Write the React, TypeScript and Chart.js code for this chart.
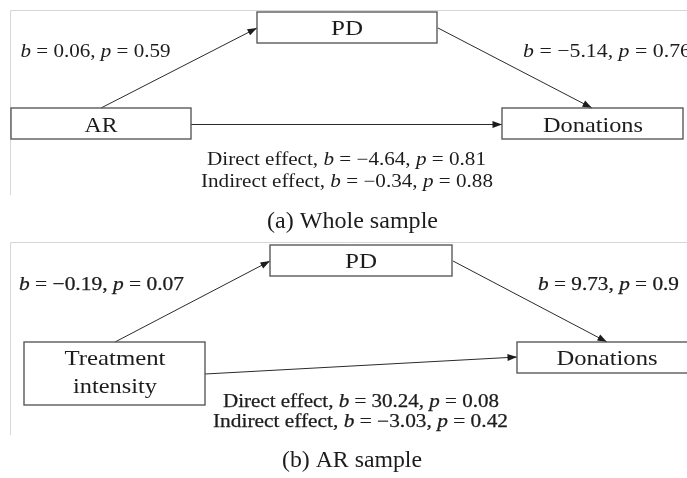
import React, { useEffect, useRef } from "react";
import { Chart, registerables } from "chart.js";

Chart.register(...registerables);

// ---------- data ----------
const panelCaptions = ["(a) Whole sample", "(b) AR sample"];
const nodeNamesA = [["AR"], ["PD"], ["Donations"]];
const nodeNamesB = [["Treatment", "intensity"], ["PD"], ["Donations"]];
const effectNames = ["Direct effect", "Indirect effect"];

// path coefficients: [X -> PD, PD -> Donations]
const aPathB = [0.06, -5.14];
const aPathP = [0.59, 0.76];
const bPathB = [-0.19, 9.73];
const bPathP = [0.07, 0.9];

// effects: [direct, indirect]
const aEffectB = [-4.64, -0.34];
const aEffectP = [0.81, 0.88];
const bEffectB = [30.24, -3.03];
const bEffectP = [0.08, 0.42];

// ---------- layout (pixel space of the 687x478 scale domain) ----------
type Box = { x0: number; x1: number; y0: number; y1: number; cx: number; base: number[]; w: number[] };
const layoutA = {
  frame: { x: 10.5, top: 10.5, bottom: 195 },
  boxes: [
    { x0: 11, x1: 191, y0: 108, y1: 139, cx: 101, base: [132], w: [33] },
    { x0: 257, x1: 437, y0: 12, y1: 43, cx: 347, base: [35], w: [32] },
    { x0: 502, x1: 683, y0: 108, y1: 139, cx: 593, base: [132], w: [100] },
  ] as Box[],
  arrows: [
    [[101, 108], [257, 28]],
    [[438, 28], [592, 108]],
    [[191, 124.5], [502, 124.5]],
  ],
  pathLabels: [
    { x: 20.5, base: 57, w: 150 },
    { x: 523, base: 57, w: 168 },
  ],
  effectLabels: [
    { cx: 346.5, base: 165, w: 279 },
    { cx: 347, base: 187, w: 292 },
  ],
  caption: { cx: 352.5, base: 228, w: 171 },
  bold: 0,
};
const layoutB = {
  frame: { x: 10.5, top: 242.5, bottom: 435 },
  boxes: [
    { x0: 24, x1: 205, y0: 342, y1: 405, cx: 115, base: [365, 392.5], w: [101, 84] },
    { x0: 270, x1: 452, y0: 245, y1: 276, cx: 361, base: [268], w: [32] },
    { x0: 517, x1: 700, y0: 342, y1: 373, cx: 607, base: [365], w: [101] },
  ] as Box[],
  arrows: [
    [[115, 342], [270, 261]],
    [[453, 261], [607, 342]],
    [[205, 374], [517, 357]],
  ],
  pathLabels: [
    { x: 19, base: 290, w: 165 },
    { x: 538, base: 290, w: 141 },
  ],
  effectLabels: [
    { cx: 361, base: 407, w: 276 },
    { cx: 360.5, base: 427, w: 295 },
  ],
  caption: { cx: 352, base: 467, w: 140 },
  bold: 0.25,
};

const W = 687;
const H = 478;
const SERIF = "'Liberation Serif', 'Times New Roman', serif";
const INK = "#1c1c1c";

type Seg = { t: string; it?: boolean };

const fmt = (v: number) => (v < 0 ? "\u2212" + String(-v) : String(v));
const mathSegs = (prefix: string, b: number, p: number): Seg[] => [
  ...(prefix ? [{ t: prefix + ", " }] : []),
  { t: "b", it: true },
  { t: " = " + fmt(b) + ", " },
  { t: "p", it: true },
  { t: " = " + fmt(p) },
];

function drawRich(
  ctx: CanvasRenderingContext2D,
  segs: Seg[],
  size: number,
  left: number | null,
  cx: number | null,
  base: number,
  targetW: number,
  bold: number
) {
  const font = (it?: boolean) => `${it ? "italic " : ""}${size}px ${SERIF}`;
  let natural = 0;
  for (const s of segs) {
    ctx.font = font(s.it);
    natural += ctx.measureText(s.t).width;
  }
  const sx = targetW / natural;
  const x0 = left !== null ? left : (cx as number) - targetW / 2;
  ctx.save();
  ctx.translate(x0, base);
  ctx.scale(sx, 1);
  ctx.fillStyle = INK;
  ctx.strokeStyle = INK;
  ctx.lineWidth = bold;
  ctx.textBaseline = "alphabetic";
  ctx.textAlign = "left";
  let x = 0;
  for (const s of segs) {
    ctx.font = font(s.it);
    ctx.fillText(s.t, x, 0);
    if (bold > 0) ctx.strokeText(s.t, x, 0);
    x += ctx.measureText(s.t).width;
  }
  ctx.restore();
}

const panels = [
  { L: layoutA, names: nodeNamesA, pathB: aPathB, pathP: aPathP, effB: aEffectB, effP: aEffectP, caption: panelCaptions[0] },
  { L: layoutB, names: nodeNamesB, pathB: bPathB, pathP: bPathP, effB: bEffectB, effP: bEffectP, caption: panelCaptions[1] },
];

const diagramPlugin = {
  id: "diagram",
  beforeDatasetsDraw(chart: any) {
    const { ctx, scales } = chart;
    const px = (v: number) => scales.x.getPixelForValue(v);
    const py = (v: number) => scales.y.getPixelForValue(v);
    ctx.save();
    ctx.strokeStyle = "#d6d6d6";
    ctx.lineWidth = 1;
    for (const { L } of panels) {
      ctx.beginPath();
      ctx.moveTo(px(L.frame.x), py(L.frame.bottom));
      ctx.lineTo(px(L.frame.x), py(L.frame.top));
      ctx.lineTo(px(W), py(L.frame.top));
      ctx.stroke();
    }
    ctx.restore();
  },
  afterDatasetsDraw(chart: any) {
    const { ctx, scales } = chart;
    const px = (v: number) => scales.x.getPixelForValue(v);
    const py = (v: number) => scales.y.getPixelForValue(v);
    // arrowheads
    ctx.save();
    ctx.fillStyle = "#1c1c1c";
    for (const ds of chart.data.datasets) {
      const d = ds.data;
      const a = d[d.length - 2];
      const b = d[d.length - 1];
      const x1 = px(b.x), y1 = py(b.y);
      const ang = Math.atan2(y1 - py(a.y), x1 - px(a.x));
      const len = 9.5, half = 3.4;
      ctx.beginPath();
      ctx.moveTo(x1, y1);
      ctx.lineTo(x1 - len * Math.cos(ang) + half * Math.sin(ang), y1 - len * Math.sin(ang) - half * Math.cos(ang));
      ctx.lineTo(x1 - len * Math.cos(ang) - half * Math.sin(ang), y1 - len * Math.sin(ang) + half * Math.cos(ang));
      ctx.closePath();
      ctx.fill();
    }
    ctx.restore();

    for (const P of panels) {
      const L = P.L;
      // boxes
      ctx.save();
      ctx.strokeStyle = "#5a5a5a";
      ctx.lineWidth = 1.4;
      for (const bx of L.boxes) {
        ctx.strokeRect(px(bx.x0), py(bx.y0), px(bx.x1) - px(bx.x0), py(bx.y1) - py(bx.y0));
      }
      ctx.restore();
      // node names
      L.boxes.forEach((bx, i) => {
        P.names[i].forEach((line, j) => {
          drawRich(ctx, [{ t: line }], 21, null, px(bx.cx), py(bx.base[j]), bx.w[j], 0);
        });
      });
      // path labels
      L.pathLabels.forEach((pl, i) => {
        drawRich(ctx, mathSegs("", P.pathB[i], P.pathP[i]), 19, px(pl.x), null, py(pl.base), pl.w, L.bold);
      });
      // effect labels
      L.effectLabels.forEach((el, i) => {
        drawRich(ctx, mathSegs(effectNames[i], P.effB[i], P.effP[i]), 18, null, px(el.cx), py(el.base), el.w, L.bold);
      });
      // caption
      drawRich(ctx, [{ t: P.caption }], 24, null, px(L.caption.cx), py(L.caption.base), L.caption.w, 0);
    }
  },
};

export default function App() {
  const ref = useRef<HTMLCanvasElement | null>(null);
  useEffect(() => {
    if (!ref.current) return;
    const datasets = panels.flatMap((P) =>
      P.L.arrows.map((ar) => ({
        data: ar.map(([x, y]) => ({ x, y })),
        showLine: true,
        borderColor: "#2a2a2a",
        borderWidth: 1,
        pointRadius: 0,
        pointHoverRadius: 0,
        fill: false,
      }))
    );
    const chart = new Chart(ref.current, {
      type: "scatter",
      data: { datasets },
      options: {
        animation: false,
        responsive: false,
        events: [],
        layout: { padding: 0 },
        plugins: { legend: { display: false }, tooltip: { enabled: false }, title: { display: false } },
        scales: {
          x: { type: "linear", min: 0, max: W, display: false },
          y: { type: "linear", min: 0, max: H, reverse: true, display: false },
        },
      },
      plugins: [diagramPlugin],
    } as any);
    return () => chart.destroy();
  }, []);
  return (
    <div style={{ position: "absolute", left: 0, top: 0, width: W, height: H, background: "#fff" }}>
      <canvas ref={ref} width={W} height={H} style={{ width: W, height: H, display: "block" }} />
    </div>
  );
}
